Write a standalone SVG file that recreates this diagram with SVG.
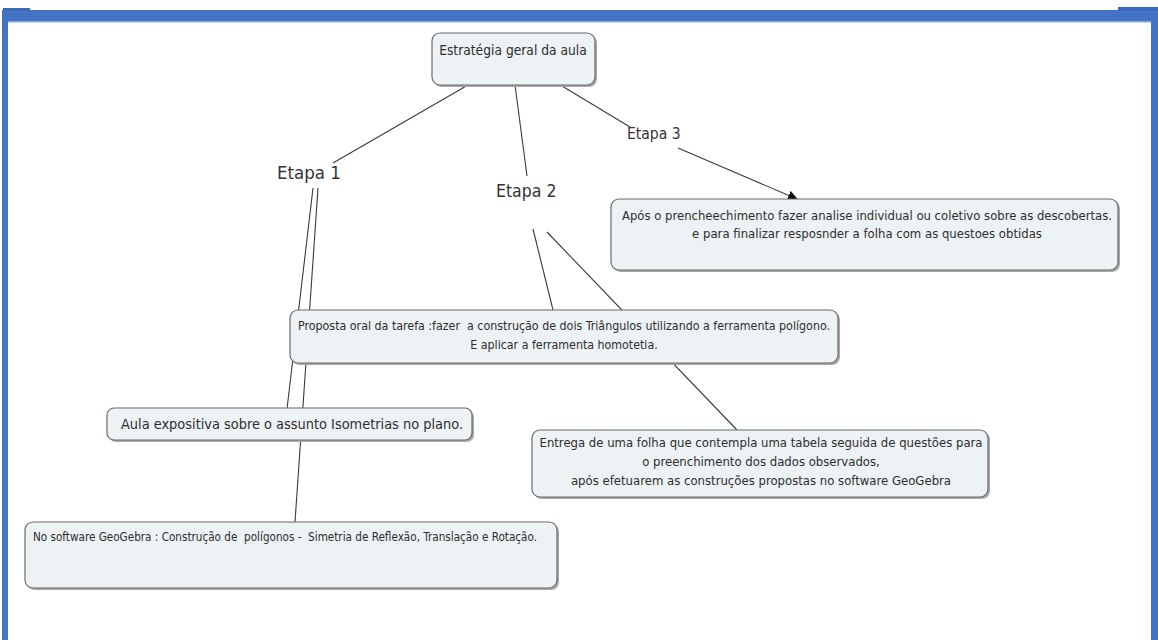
<svg xmlns="http://www.w3.org/2000/svg" width="1158" height="640" viewBox="0 0 1158 640">
<style>
.box{fill:#edf2f4;stroke:#6b6b6b;stroke-width:1.2}
.sh{fill:#a9a9a9}
.t{font-family:"DejaVu Sans Condensed","DejaVu Sans",sans-serif;font-stretch:condensed;fill:#2e2e2e;white-space:pre}
.lbl{font-family:"DejaVu Sans Condensed","DejaVu Sans",sans-serif;font-stretch:condensed;fill:#333}
.c{stroke:#3a3a3a;stroke-width:1.1;fill:none}
.frame{fill:#4472c4}
</style>
<defs>
<marker id="arr" viewBox="0 0 10 10" refX="9" refY="5" markerWidth="10" markerHeight="10" markerUnits="userSpaceOnUse" orient="auto">
<path d="M0,0 L10,5 L0,10 z" fill="#111"/>
</marker>
</defs>
<rect width="1158" height="640" fill="#ffffff"/>
<g id="frame">
<rect class="frame" x="2" y="10" width="1156" height="11"/>
<rect x="8" y="21" width="1143" height="1.5" fill="#8aa6da"/>
<rect class="frame" x="2" y="10" width="6" height="630"/>
<rect class="frame" x="1151" y="8" width="7" height="632"/>
<rect x="3" y="8" width="27" height="3" fill="#3a68bd"/>
<rect x="1118" y="7" width="40" height="4" fill="#3a68bd"/>
</g>
<g id="connectors">
<line class="c" x1="468" y1="85" x2="333" y2="163"/>
<line class="c" x1="515" y1="85" x2="527" y2="176"/>
<line class="c" x1="562" y1="86" x2="630" y2="127"/>
<line class="c" x1="678" y1="148" x2="797" y2="199" marker-end="url(#arr)"/>
<line class="c" x1="313" y1="188" x2="287" y2="409"/>
<line class="c" x1="318" y1="188" x2="295" y2="522"/>
<line class="c" x1="533" y1="229" x2="553" y2="310"/>
<line class="c" x1="547" y1="232" x2="737" y2="430"/>
</g>
<g id="n-top">
<rect class="sh" x="434" y="35" width="163" height="52" rx="8"/>
<rect class="box" x="432" y="33" width="163" height="52" rx="8"/>
<text class="t" x="513" y="55" font-size="13.7" text-anchor="middle">Estratégia geral da aula</text>
</g>
<g id="etapa1"><text class="lbl" x="277" y="179" font-size="18.5">Etapa 1</text></g>
<g id="etapa2"><text class="lbl" x="496" y="197" font-size="17.5">Etapa 2</text></g>
<g id="etapa3"><text class="lbl" x="627" y="139" font-size="15.5">Etapa 3</text></g>
<g id="n-etapa3">
<rect class="sh" x="613" y="201" width="507" height="71" rx="8"/>
<rect class="box" x="611" y="199" width="507" height="71" rx="8"/>
<text class="t" x="867" y="220" font-size="13" text-anchor="middle" textLength="490" lengthAdjust="spacingAndGlyphs">Após o prencheechimento fazer analise individual ou coletivo sobre as descobertas.</text>
<text class="t" x="867" y="238" font-size="13" text-anchor="middle">e para finalizar resposnder a folha com as questoes obtidas</text>
</g>
<g id="n-proposta">
<rect class="sh" x="292" y="312" width="548" height="53" rx="8"/>
<rect class="box" x="290" y="310" width="548" height="53" rx="8"/>
<text class="t" x="564" y="330" font-size="12.3" text-anchor="middle" textLength="532" lengthAdjust="spacingAndGlyphs">Proposta oral da tarefa :fazer  a construção de dois Triângulos utilizando a ferramenta polígono.</text>
<text class="t" x="564" y="349" font-size="12.3" text-anchor="middle">E aplicar a ferramenta homotetia.</text>
</g>
<g id="n-aula">
<rect class="sh" x="109" y="410" width="365" height="32" rx="7"/>
<rect class="box" x="107" y="408" width="365" height="32" rx="7"/>
<text class="t" x="292" y="429" font-size="14.3" text-anchor="middle" textLength="342" lengthAdjust="spacingAndGlyphs">Aula expositiva sobre o assunto Isometrias no plano.</text>
</g>
<g id="n-entrega">
<rect class="sh" x="534" y="432" width="456" height="67" rx="8"/>
<rect class="box" x="532" y="430" width="456" height="67" rx="8"/>
<text class="t" x="761" y="447" font-size="13" text-anchor="middle" textLength="443" lengthAdjust="spacingAndGlyphs">Entrega de uma folha que contempla uma tabela seguida de questões para</text>
<text class="t" x="761" y="466" font-size="13" text-anchor="middle">o preenchimento dos dados observados,</text>
<text class="t" x="761" y="485" font-size="13" text-anchor="middle">após efetuarem as construções propostas no software GeoGebra</text>
</g>
<g id="n-geogebra">
<rect class="sh" x="27" y="524" width="532" height="66" rx="8"/>
<rect class="box" x="25" y="522" width="532" height="66" rx="8"/>
<text class="t" x="33" y="541" font-size="11.5" textLength="504" lengthAdjust="spacingAndGlyphs">No software GeoGebra : Construção de  polígonos -  Simetria de Reflexão, Translação e Rotação.</text>
</g>
</svg>
